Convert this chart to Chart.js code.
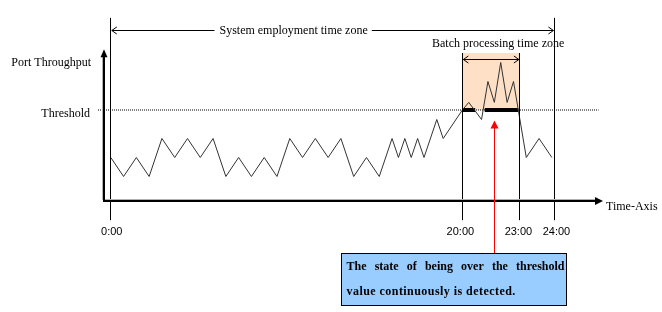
<!DOCTYPE html>
<html><head><meta charset="utf-8">
<script src="https://cdn.jsdelivr.net/npm/chart.js@4.4.1/dist/chart.umd.min.js"></script>
<style>html,body{margin:0;padding:0;background:#fff}#wrap{width:662px;height:312px}</style>
</head><body><div id="wrap"><canvas id="c" width="662" height="312"></canvas></div>
<script>
// ---- data (x in time-axis units, y in throughput units) ----
const timeTickLabels = ['0:00', '20:00', '23:00', '24:00'];
const timeTickValues = [0, 55, 64, 69.4];
const throughputX = [0,2,4,6,8,10,12,14,16,18,20,22,24,26,28,30,32,34,36,38,40,42,44,45,46,47,48,49,51,52,55,56,58,59,60,61,62,63,65,67,69];
const throughputY = [2,1,2,1,3,2,3,2,3,1,2,1,2,1,3,2,3,2,3,1,2,1,3,2,3,2,3,2,4,3,4.5,4.9,4,6,4.9,7,4.9,6,2,3,2];
const thresholdValue = 4.5;
const overThresholdStart = [55, 58.5];
const overThresholdEnd = [57, 63.7];
const batchTopValue = 7.5;
const detectedAtValue = 60;

const SERIF = '"Liberation Serif", "DejaVu Serif", serif';
const SANS = '"Liberation Sans", Arial, sans-serif';

const throughputData = throughputX.map((v, i) => ({x: v, y: throughputY[i]}));
const overData = [];
overThresholdStart.forEach((s, i) => {
  if (i > 0) overData.push({x: (overThresholdEnd[i-1] + s) / 2, y: null});
  overData.push({x: s, y: thresholdValue}, {x: overThresholdEnd[i], y: thresholdValue});
});

function crisp(v) { return Math.round(v) + 0.5; }

const diagram = {
  id: 'diagram',
  beforeDatasetsDraw(chart) {
    const {ctx, scales: {x, y}} = chart;
    ctx.save();
    ctx.fillStyle = '#FDE0C6';
    const x0 = x.getPixelForValue(timeTickValues[1]), x1 = x.getPixelForValue(timeTickValues[2]);
    const yT = y.getPixelForValue(batchTopValue), yB = y.getPixelForValue(thresholdValue);
    ctx.fillRect(x0, yT, x1 - x0, yB - yT);
    ctx.restore();
  },
  afterDatasetsDraw(chart) {
    const {ctx, scales: {x, y}} = chart;
    ctx.save();
    const topY = y.getPixelForValue(9.35);
    const lowY = y.getPixelForValue(-1.3);
    const batchTopPx = y.getPixelForValue(batchTopValue);
    // vertical time lines
    ctx.strokeStyle = '#000'; ctx.lineWidth = 1;
    timeTickValues.forEach((t, i) => {
      const px = crisp(x.getPixelForValue(t) - 0.5);
      const top = (i === 0 || i === 3) ? topY : batchTopPx;
      ctx.beginPath(); ctx.moveTo(px, top); ctx.lineTo(px, lowY); ctx.stroke();
    });
    // axes
    const ax = x.getPixelForValue(-1);
    const ay = y.getPixelForValue(-0.3);
    const yTip = y.getPixelForValue(7.7);
    const xTip = x.getPixelForValue(77);
    ctx.strokeStyle = '#b0b0b0'; ctx.lineWidth = 1;
    ctx.beginPath(); ctx.moveTo(Math.round(ax) - 1.5, yTip + 6); ctx.lineTo(Math.round(ax) - 1.5, Math.round(ay) - 1.5); ctx.lineTo(xTip - 6, Math.round(ay) - 1.5); ctx.stroke();
    ctx.strokeStyle = '#000'; ctx.lineWidth = 2;
    ctx.beginPath(); ctx.moveTo(Math.round(ax), yTip + 6); ctx.lineTo(Math.round(ax), Math.round(ay)); ctx.lineTo(xTip - 6, Math.round(ay)); ctx.stroke();
    ctx.fillStyle = '#000';
    ctx.beginPath(); ctx.moveTo(Math.round(ax), yTip); ctx.lineTo(Math.round(ax) - 3.5, yTip + 8); ctx.lineTo(Math.round(ax) + 3.5, yTip + 8); ctx.closePath(); ctx.fill();
    ctx.beginPath(); ctx.moveTo(xTip, Math.round(ay)); ctx.lineTo(xTip - 8, Math.round(ay) - 4); ctx.lineTo(xTip - 8, Math.round(ay) + 4); ctx.closePath(); ctx.fill();

    // tick labels
    ctx.font = '11px ' + SANS; ctx.fillStyle = '#000'; ctx.textAlign = 'center'; ctx.textBaseline = 'middle';
    const tickOff = [1, -2, -1.5, 2];
    timeTickLabels.forEach((lab, i) => {
      ctx.fillText(lab, x.getPixelForValue(timeTickValues[i]) + tickOff[i], lowY + 12);
    });

    // text labels
    ctx.font = '12px ' + SERIF;
    ctx.textAlign = 'right';
    ctx.fillText('Port Throughput', 91, yTip + 14);
    ctx.fillText('Threshold', 90, y.getPixelForValue(thresholdValue) + 3.5);
    ctx.textAlign = 'left';
    ctx.fillText('Time-Axis', xTip + 3, Math.round(ay) + 6);

    // system employment arrow
    const sy = crisp(topY + 12);
    const sx0 = x.getPixelForValue(0) + 1, sx1 = x.getPixelForValue(timeTickValues[3]) - 1;
    const sText = 'System employment time zone';
    const sw = ctx.measureText(sText).width;
    const sc = x.getPixelForValue(28.6);
    ctx.textAlign = 'center';
    ctx.fillText(sText, sc, sy);
    ctx.lineWidth = 1; ctx.strokeStyle = '#000';
    ctx.beginPath();
    ctx.moveTo(sx0, sy); ctx.lineTo(sc - sw / 2 - 5, sy);
    ctx.moveTo(sc + sw / 2 + 4, sy); ctx.lineTo(sx1, sy);
    ctx.moveTo(sx0 + 5, sy - 3.5); ctx.lineTo(sx0, sy); ctx.lineTo(sx0 + 5, sy + 3.5);
    ctx.moveTo(sx1 - 5, sy - 3.5); ctx.lineTo(sx1, sy); ctx.lineTo(sx1 - 5, sy + 3.5);
    ctx.stroke();

    // batch processing label + double arrow
    const bx0 = x.getPixelForValue(timeTickValues[1]) + 1, bx1 = x.getPixelForValue(timeTickValues[2]) - 1;
    ctx.fillText('Batch processing time zone', (bx0 + bx1) / 2 + 7, batchTopPx - 9.5);
    const by = crisp(batchTopPx + 6);
    ctx.beginPath();
    ctx.moveTo(bx0, by); ctx.lineTo(bx1, by);
    ctx.moveTo(bx0 + 5, by - 3.5); ctx.lineTo(bx0, by); ctx.lineTo(bx0 + 5, by + 3.5);
    ctx.moveTo(bx1 - 5, by - 3.5); ctx.lineTo(bx1, by); ctx.lineTo(bx1 - 5, by + 3.5);
    ctx.stroke();

    // red detection arrow
    const rx = crisp(x.getPixelForValue(detectedAtValue));
    const rTip = y.getPixelForValue(3.95);
    const boxTop = 253.5, boxBottom = 305.5;
    ctx.strokeStyle = '#ff0000'; ctx.fillStyle = '#ff0000'; ctx.lineWidth = 1;
    ctx.beginPath(); ctx.moveTo(rx, rTip + 7); ctx.lineTo(rx, boxTop); ctx.stroke();
    ctx.beginPath(); ctx.moveTo(rx, rTip); ctx.lineTo(rx - 4, rTip + 8); ctx.lineTo(rx + 4, rTip + 8); ctx.closePath(); ctx.fill();

    // blue note box
    const boxL = 341.5, boxR = 566.5;
    ctx.fillStyle = '#99CCFF';
    ctx.fillRect(boxL, boxTop, boxR - boxL, boxBottom - boxTop);
    ctx.strokeStyle = '#000';
    ctx.strokeRect(boxL, boxTop, boxR - boxL, boxBottom - boxTop);
    ctx.fillStyle = '#000';
    ctx.font = 'bold 12px ' + SERIF;
    ctx.textAlign = 'left';
    const words = ['The', 'state', 'of', 'being', 'over', 'the', 'threshold'];
    const lx0 = boxL + 5, lx1 = boxR - 2;
    const tw = words.reduce((s, w) => s + ctx.measureText(w).width, 0);
    const gap = (lx1 - lx0 - tw) / (words.length - 1);
    let cx = lx0;
    words.forEach(w => { ctx.fillText(w, cx, boxTop + 13.5); cx += ctx.measureText(w).width + gap; });
    ctx.letterSpacing = '0.45px';
    ctx.fillText('value continuously is detected.', lx0, boxTop + 38.5);
    ctx.restore();
  }
};

new Chart(document.getElementById('c'), {
  type: 'line',
  data: {
    datasets: [
      {data: throughputData, borderColor: '#333', borderWidth: 1, pointRadius: 0, tension: 0},
      {data: overData, borderColor: '#000', borderWidth: 4, pointRadius: 0, spanGaps: false, borderCapStyle: 'butt'},
      {data: [{x: -2, y: thresholdValue}, {x: 76.3, y: thresholdValue}], borderColor: '#000', borderWidth: 1, borderDash: [1, 1], pointRadius: 0}
    ]
  },
  options: {
    responsive: false, animation: false, devicePixelRatio: 1,
    layout: {padding: {left: 98, right: 59, top: 16, bottom: 88}},
    plugins: {legend: {display: false}, tooltip: {enabled: false}},
    scales: {
      x: {type: 'linear', min: -2, max: 77, display: false},
      y: {type: 'linear', min: -1.5, max: 9.447, display: false}
    }
  },
  plugins: [diagram]
});
</script></body></html>
